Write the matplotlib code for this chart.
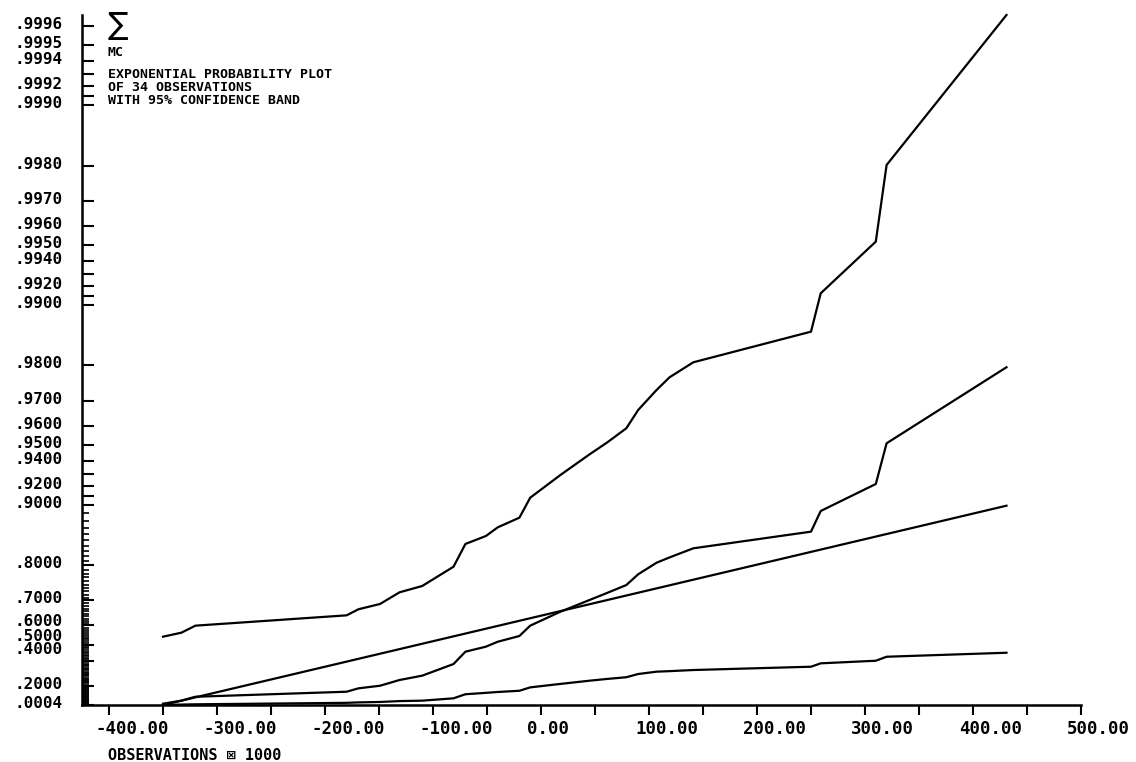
import numpy as np
import matplotlib
matplotlib.use('Agg')
import matplotlib.pyplot as plt
from matplotlib.transforms import ScaledTranslation

plt.rcParams['font.family'] = ['DejaVu Sans Mono', 'DejaVu Sans']
plt.rcParams['font.weight'] = 'bold'

# sorted observations (x 1000) and the curves, y given as exponential quantile -ln(1-p)
obs_x = [-350, -333, -320, -180, -169, -149, -131, -110, -81, -70, -51, -40, -20,
         -10, 18, 45, 61, 79, 90, 107, 119, 141, 250, 259, 310, 320, 431]
upper_band = [0.787, 0.833, 0.914, 1.033, 1.103, 1.164, 1.298, 1.371, 1.593, 1.855,
              1.947, 2.047, 2.158, 2.388, 2.650, 2.888, 3.022, 3.188, 3.399, 3.629,
              3.775, 3.948, 4.301, 4.743, 5.338, 6.221, 7.949]
sample_line = [0.015, 0.05, 0.095, 0.153, 0.192, 0.222, 0.288, 0.338, 0.472, 0.614,
               0.672, 0.729, 0.795, 0.914, 1.075, 1.210, 1.29, 1.382, 1.506, 1.639,
               1.70, 1.805, 1.997, 2.235, 2.546, 3.015, 3.891]
lower_band = [0.002, 0.005, 0.008, 0.025, 0.03, 0.035, 0.045, 0.05, 0.077, 0.124,
              0.14, 0.15, 0.164, 0.203, 0.243, 0.280, 0.30, 0.320, 0.357, 0.384,
              0.39, 0.403, 0.441, 0.480, 0.510, 0.556, 0.602]
fit_x = [-350, 431]
fit_z = [0.0, 2.296]

labelled_p = [0.0004, 0.2, 0.4, 0.5, 0.6, 0.7, 0.8, 0.9, 0.92, 0.94, 0.95, 0.96, 0.97,
              0.98, 0.99, 0.992, 0.994, 0.995, 0.996, 0.997, 0.998, 0.999, 0.9992,
              0.9994, 0.9995, 0.9996]
long_p = [0.91, 0.93, 0.991, 0.993, 0.9991, 0.9993]
short_p = [round(0.01 * k, 2) for k in range(1, 90)]


def zq(p):
    return -np.log1p(-np.asarray(p, dtype=float))


fig = plt.figure(figsize=(11.36, 7.62), dpi=100)
ax = fig.add_axes([82 / 1136, 57 / 762, 999 / 1136, 690 / 762])

for ys in (upper_band, sample_line, lower_band):
    ax.plot(obs_x, ys, color='black', lw=1.6, clip_on=False)
ax.plot(fit_x, fit_z, color='black', lw=1.6, clip_on=False)

ax.set_xlim(-425, 500)
ax.set_ylim(0, 7.949)

for s in ('top', 'right'):
    ax.spines[s].set_visible(False)
for s in ('left', 'bottom'):
    ax.spines[s].set_linewidth(1.8)

# y axis: probability labels on an exponential scale
major_p = sorted(labelled_p + long_p)
ylabels = [('%.4f' % p)[1:] if p in labelled_p else '' for p in major_p]
ax.set_yticks(zq(major_p), ylabels)
ax.set_yticks(zq([p for p in short_p if p not in labelled_p]), minor=True)
ax.tick_params(axis='y', which='major', direction='in', length=8.5, width=1.5,
               pad=14, labelsize=11.5)
ax.tick_params(axis='y', which='minor', direction='in', length=5, width=1.2)

# x axis
xt = np.arange(-400, 501, 50)
xlabels = ['%.2f' % v if v % 100 == 0 else '' for v in xt]
ax.set_xticks(xt, xlabels)
ax.tick_params(axis='x', direction='out', length=7, width=1.5, pad=4, labelsize=12.5)

shift_up = {0.4: 12.5, 0.5: 10, 0.6: 5}
for p, tick in zip(major_p, ax.yaxis.get_major_ticks()):
    dy = shift_up.get(p, 3) / 100
    tick.label1.set_transform(tick.label1.get_transform() +
                              ScaledTranslation(0, dy, fig.dpi_scale_trans))
for tick in ax.xaxis.get_major_ticks():
    tick.label1.set_horizontalalignment('left')
    tick.label1.set_transform(tick.label1.get_transform() +
                              ScaledTranslation(-0.14, 0, fig.dpi_scale_trans))

# annotations in the upper left
ax.text(0.026, 0.985, '\u2211', transform=ax.transAxes, fontsize=22,
        fontweight='normal', va='center', ha='left', family=['DejaVu Sans'])
ax.text(0.026, 0.946, 'MC', transform=ax.transAxes, fontsize=9.5, va='center', ha='left')
ax.text(0.026, 0.8946, 'EXPONENTIAL PROBABILITY PLOT\nOF 34 OBSERVATIONS\n'
        'WITH 95% CONFIDENCE BAND', transform=ax.transAxes,
        fontsize=9.5, va='center', ha='left', linespacing=1.0)

fig.text(108 / 1136, 1 - 756 / 762, 'OBSERVATIONS \u22a0 1000', fontsize=11,
         va='center', ha='left')

fig.savefig('out.png', dpi=100, facecolor='white')
